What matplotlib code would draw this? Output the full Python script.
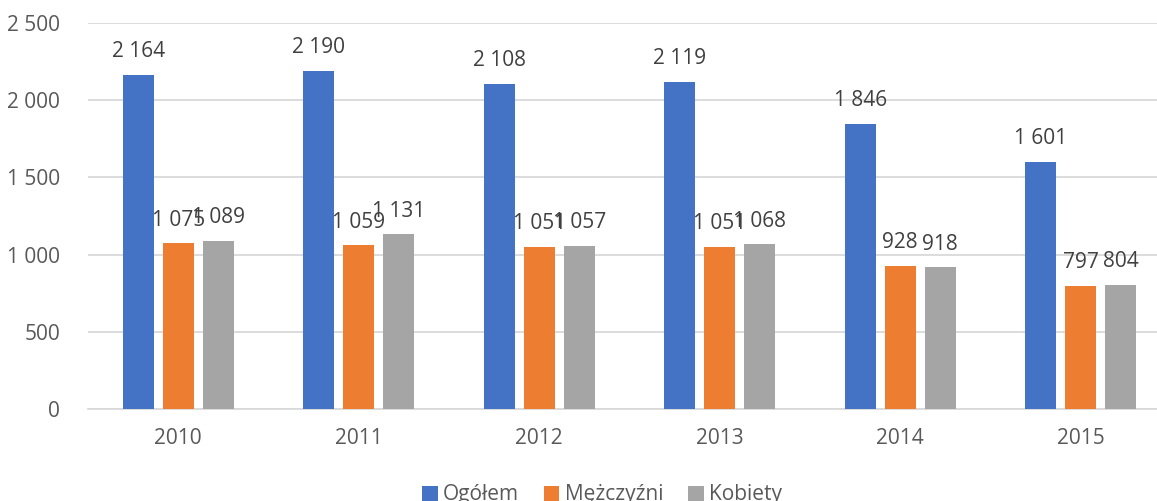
import matplotlib
matplotlib.use("Agg")
import matplotlib.pyplot as plt
import numpy as np
from matplotlib.patches import Patch

years = ["2010", "2011", "2012", "2013", "2014", "2015"]
ogolem = [2164, 2190, 2108, 2119, 1846, 1601]
mezczyzni = [1075, 1059, 1051, 1051, 928, 797]
kobiety = [1089, 1131, 1057, 1068, 918, 804]
series_names = ["Ogółem", "Mężczyźni", "Kobiety"]
colors = ["#4472C4", "#ED7D31", "#A5A5A5"]

plt.rcParams['font.family'] = ['Open Sans', 'DejaVu Sans']
txt = "#595959"
fs = 15

W, H = 1157, 501
fig = plt.figure(figsize=(W / 100, H / 100), dpi=100)
left, right, top, bottom = 88, 1171, 23, 409
ax = fig.add_axes([left / W, (H - bottom) / H, (right - left) / W, (bottom - top) / H])

x = np.arange(len(years))
bw = 0.172
step = 0.2216
for i, (vals, c) in enumerate(zip([ogolem, mezczyzni, kobiety], colors)):
    pos = x + (i - 1) * step
    ax.bar(pos, vals, width=bw, color=c, zorder=3)
    for xp, v in zip(pos, vals):
        ax.annotate(f"{v:,}".replace(",", " "), (xp, v), xytext=(0, 9),
                    textcoords="offset points", ha="center", va="bottom",
                    fontsize=fs, color="#404040", zorder=4)

ax.set_xlim(-0.5, len(years) - 0.5)
ax.set_ylim(0, 2500)
ax.set_yticks(range(0, 2501, 500))
ax.set_yticklabels([f"{v:,}".replace(",", " ") for v in range(0, 2501, 500)])
ax.set_xticks(x)
ax.set_xticklabels(years)
ax.tick_params(axis="both", length=0, labelsize=fs, colors=txt)
ax.tick_params(axis="y", pad=20)
ax.tick_params(axis="x", pad=14)
ax.grid(axis="y", color="#D9D9D9", linewidth=1.3, zorder=0)
for s in ["top", "right", "left"]:
    ax.spines[s].set_visible(False)
ax.spines["bottom"].set_color("#D9D9D9")
ax.spines["bottom"].set_linewidth(1.3)

handles = [Patch(facecolor=c, edgecolor="none") for c in colors]
fig.legend(handles, series_names, loc="center", bbox_to_anchor=(602 / W, 0.012),
           ncol=3, frameon=False, fontsize=fs, labelcolor=txt,
           handlelength=0.75, handleheight=0.75, handletextpad=0.25,
           columnspacing=1.2)

fig.savefig("out.png", dpi=100)
